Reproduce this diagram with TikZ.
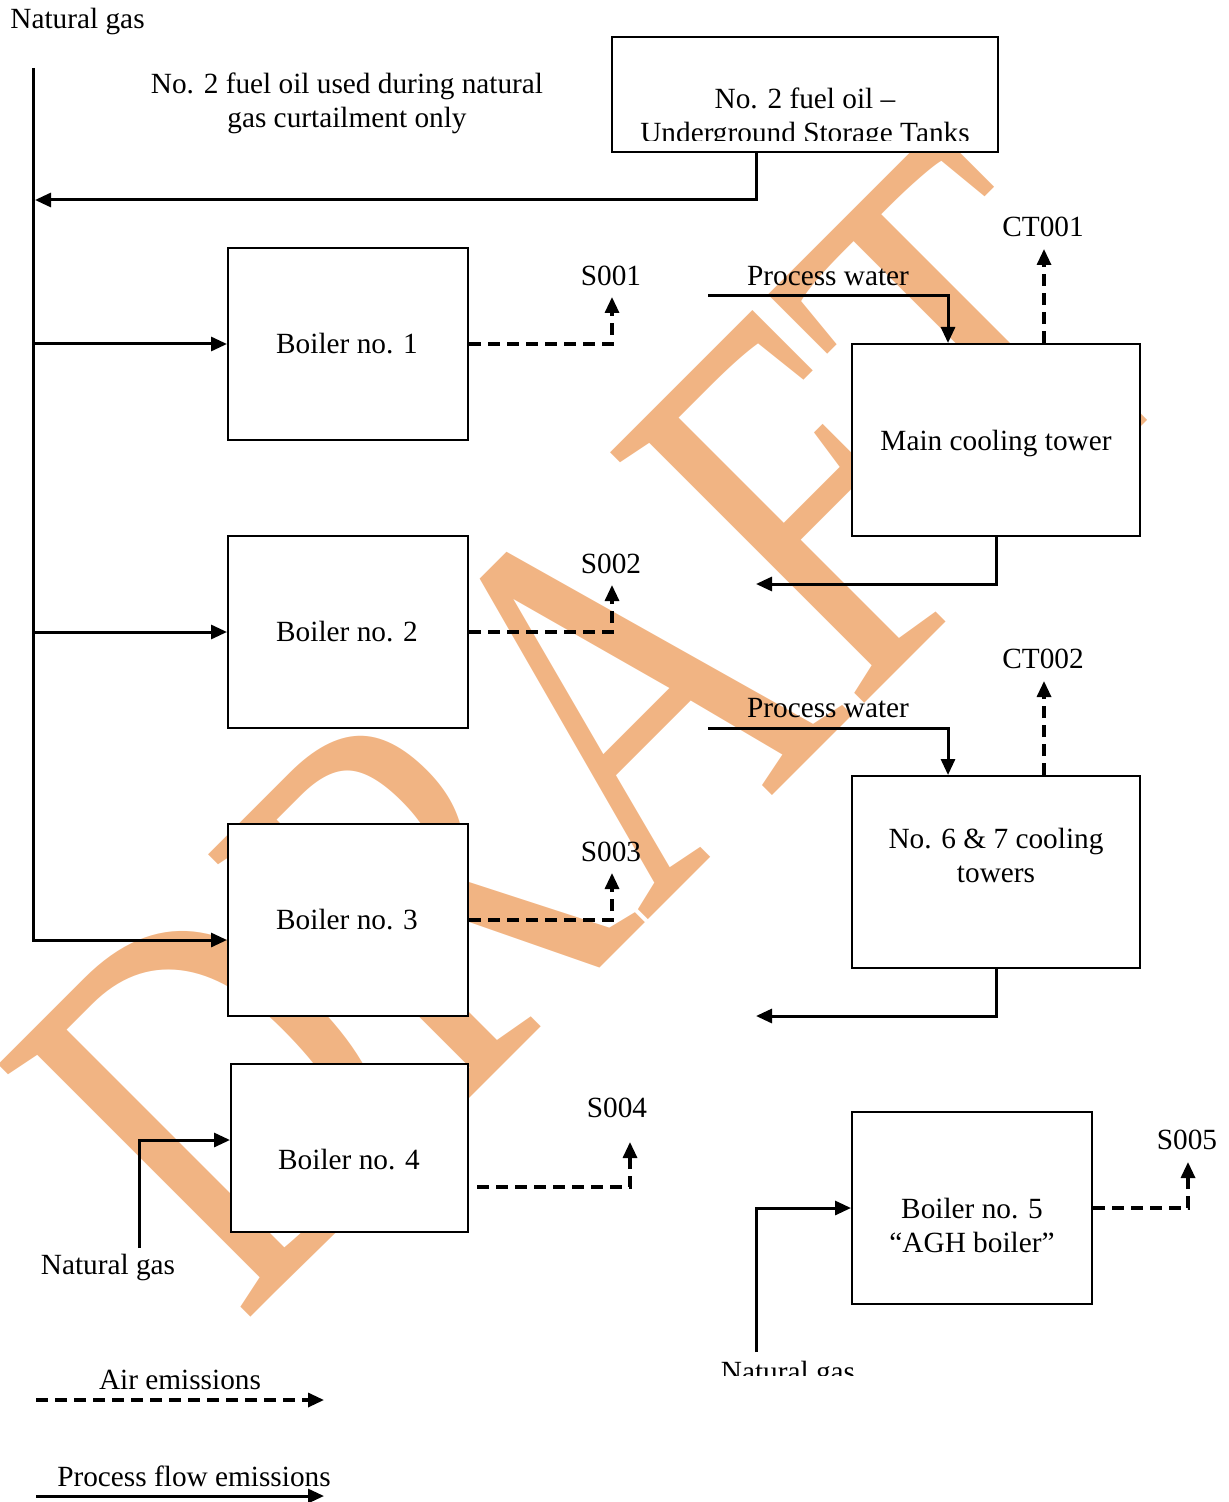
\documentclass[tikz,border=0pt]{standalone}
\usepackage{fontspec}
\setmainfont{Liberation Serif}
\newfontfamily\wmfamily{Liberation Serif}
\usetikzlibrary{arrows.meta}
\definecolor{wmorange}{RGB}{241,180,131}
\begin{document}
\begin{tikzpicture}[x=0.5pt,y=-0.5pt,
  lbl/.style={inner sep=0pt, font=\fontsize{14.65pt}{17pt}\selectfont, align=center},
  box/.style={draw, line width=1pt, fill=white, inner sep=0pt},
  flow/.style={line width=1.5pt, -{Triangle[length=8pt,width=7pt]}},
  air/.style={line width=1.6pt, dash pattern=on 6pt off 3.5pt, -{Triangle[length=8pt,width=7pt]}},
  wm/.style={anchor=base, rotate=45, inner sep=0pt, text=wmorange, font=\wmfamily\fontsize{272.5pt}{280pt}\selectfont}]
\useasboundingbox (0,0) rectangle (1228,1502);
\clip (0,0) rectangle (1228,1502);

% watermark
\node[wm] (draft) at (718,850) {\scalebox{0.752}[1]{DRAFT}};

% boxes
\node[box, minimum width=193pt, minimum height=57.5pt] (fo) at (805,94.5) {};
\node[box, minimum width=120pt, minimum height=96pt] (b1) at (348,344) {};
\node[box, minimum width=120pt, minimum height=96pt] (b2) at (348,632) {};
\node[box, minimum width=120pt, minimum height=96pt] (b3) at (348,920) {};
\node[box, minimum width=118.5pt, minimum height=84pt] (b4) at (349.5,1148) {};
\node[box, minimum width=120pt, minimum height=96pt] (b5) at (972,1208) {};
\node[box, minimum width=144pt, minimum height=96pt] (mct) at (996,440) {};
\node[box, minimum width=144pt, minimum height=96pt] (ct67) at (996,872) {};

% box texts
\begin{scope}
\clip (612,37) rectangle (998,141);
\node[lbl] (fotext) at (805,118) {No. 2 fuel oil –\\Underground Storage Tanks};
\end{scope}
\node[lbl] (b1t) at (347,344) {Boiler no. 1};
\node[lbl] (b2t) at (347,632) {Boiler no. 2};
\node[lbl] (b3t) at (347,920) {Boiler no. 3};
\node[lbl] (b4t) at (349,1160) {Boiler no. 4};
\node[lbl] (b5t) at (972,1225) {Boiler no. 5\\“AGH boiler”};
\node[lbl] (mctt) at (996,443) {Main cooling tower};
\node[lbl] (ct67t) at (996,855) {No. 6 \& 7 cooling\\towers};

% free labels
\node[lbl, anchor=west] (ngtopl) at (10,22) {Natural gas};
\node[lbl] (note) at (347,103) {No. 2 fuel oil used during natural\\gas curtailment only};
\node[lbl] (s1) at (611,276) {S001};
\node[lbl] (s2) at (611,564) {S002};
\node[lbl] (s3) at (611,852) {S003};
\node[lbl] (s4) at (617,1108) {S004};
\node[lbl] (s5) at (1187,1140) {S005};
\node[lbl] (ct1) at (1043,227) {CT001};
\node[lbl] (ct2) at (1043,659) {CT002};
\node[lbl] (pw1) at (828,276) {Process water};
\node[lbl] (pw2) at (828,708) {Process water};
\node[lbl] (ng4) at (108,1267) {Natural gas};
\begin{scope}
\clip (700,1340) rectangle (880,1375);
\node[lbl] (ng5) at (788,1374) {Natural gas};
\end{scope}
\node[lbl] (lga) at (180,1380) {Air emissions};
\node[lbl] (lgp) at (194,1476) {Process flow emissions};

% coordinates
\coordinate (ngtop) at (33,68);
\coordinate (ngbot) at (33,940);
\coordinate (foout) at (756,152);
\coordinate (fojoin) at (35,200);
\coordinate (f1) at (33,344);
\coordinate (f2) at (33,632);
\coordinate (s1t) at (612,297);
\coordinate (s2t) at (612,585);
\coordinate (s3t) at (612,873);
\coordinate (b4d) at (477,1187);
\coordinate (s4t) at (630,1142);
\coordinate (ng4s) at (139,1248);
\coordinate (ng5s) at (756,1352);
\coordinate (s5t) at (1188,1162);
\coordinate (pw1s) at (708,296);
\coordinate (pw2s) at (708,728);
\coordinate (ct1t) at (1044,249);
\coordinate (ct2t) at (1044,681);
\coordinate (ret1) at (756,584);
\coordinate (ret2) at (756,1016);
\coordinate (la1) at (36,1400);
\coordinate (la2) at (324,1400);
\coordinate (lp1) at (36,1496);
\coordinate (lp2) at (324,1496);

% connectors
\draw[flow] (ngtop) -- (ngbot) -- (ngbot -| b3.west);
\draw[flow] (foout) |- (fojoin);
\draw[flow] (f1) -- (b1.west);
\draw[flow] (f2) -- (b2.west);
\draw[air] (b1.east) -| (s1t);
\draw[air] (b2.east) -| (s2t);
\draw[air] (b3.east) -| (s3t);
\draw[air] (b4d) -| (s4t);
\draw[flow] (ng4s) |- ([yshift=4pt]b4.west);
\draw[flow] (ng5s) |- (b5.west);
\draw[air] (b5.east) -| (s5t);
\draw[flow] (pw1s) -| ([xshift=-24pt]mct.north);
\draw[air] ([xshift=24pt]mct.north) -- (ct1t);
\draw[flow] (mct.south) |- (ret1);
\draw[flow] (pw2s) -| ([xshift=-24pt]ct67.north);
\draw[air] ([xshift=24pt]ct67.north) -- (ct2t);
\draw[flow] (ct67.south) |- (ret2);
\draw[air] (la1) -- (la2);
\draw[flow] (lp1) -- (lp2);
\end{tikzpicture}
\end{document}
